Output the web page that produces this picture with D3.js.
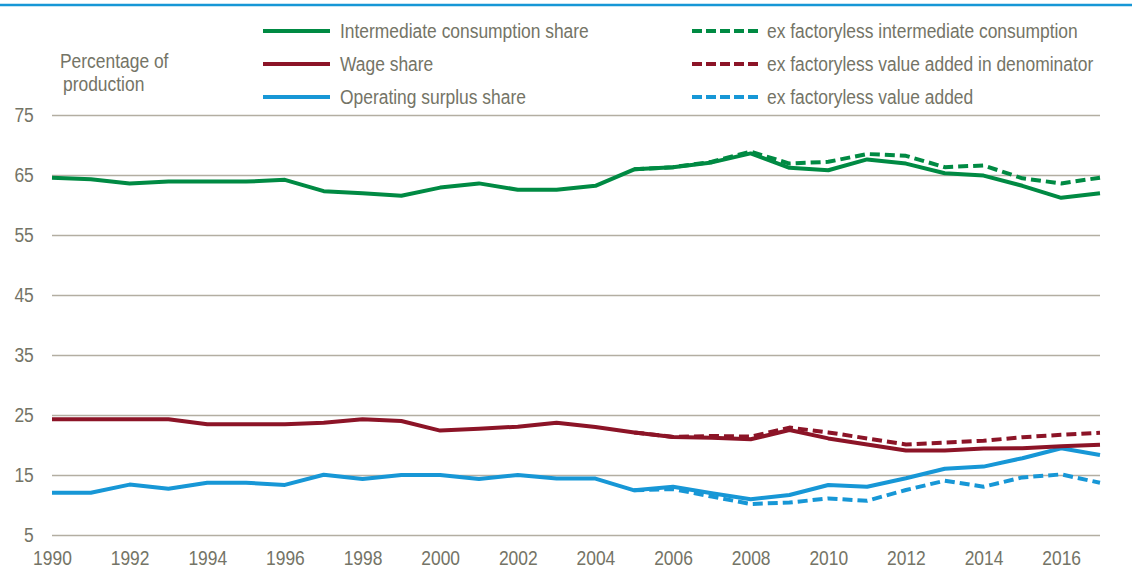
<!DOCTYPE html>
<html><head><meta charset="utf-8">
<script src="https://cdn.jsdelivr.net/npm/d3@7"></script>
<style>body{margin:0;background:#fff}svg{display:block}text{font-family:"Liberation Sans Narrow","Arial Narrow","Liberation Sans",Arial,sans-serif;fill:#747466}</style>
</head><body><svg id="c" width="1132" height="572"></svg>
<script>
const years = d3.range(1990, 2018);
const yTicks = [5, 15, 25, 35, 45, 55, 65, 75];
const xTickYears = d3.range(1990, 2018, 2);
const intermediate = [64.55,64.3,63.6,63.9,63.9,63.9,64.2,62.3,61.95,61.55,62.9,63.6,62.55,62.55,63.2,65.95,66.3,67.1,68.6,66.2,65.8,67.6,66.9,65.3,64.9,63.2,61.2,61.95];
const wage = [24.3,24.3,24.3,24.3,23.45,23.45,23.45,23.7,24.3,24.0,22.4,22.7,23.05,23.7,23.0,22.1,21.35,21.2,20.95,22.5,21.1,20.1,19.1,19.1,19.4,19.45,19.8,20.05];
const surplus = [12.05,12.05,13.4,12.7,13.7,13.7,13.35,15.05,14.33,15.0,15.0,14.35,15.0,14.4,14.4,12.45,13.05,11.95,10.95,11.67,13.33,13.05,14.45,16.05,16.4,17.8,19.45,18.33];
const dashYears = d3.range(2005, 2018);
const exIntermediate = [65.95,66.3,67.2,68.9,66.9,67.2,68.5,68.2,66.3,66.6,64.45,63.6,64.55];
const exWage = [22.1,21.35,21.5,21.4,22.9,22.1,21.1,20.1,20.4,20.7,21.3,21.7,22.05];
const exSurplus = [12.45,12.67,11.4,10.17,10.4,11.1,10.7,12.5,14.05,13.05,14.6,15.1,13.7];
const legendSolid = ["Intermediate consumption share","Wage share","Operating surplus share"];
const legendDashed = ["ex factoryless intermediate consumption","ex factoryless value added in denominator","ex factoryless value added"];
const colors = ["#008a43","#8c1427","#1797d6"];

const SX = 0.83; // horizontal condensing to mimic a narrow typeface
const svg = d3.select("#c");
const x = d3.scaleLinear().domain([1990, 2017]).range([52, 1100]);
const y = d3.scaleLinear().domain([5, 75]).range([535, 115]);

svg.append("line").attr("x1",0).attr("x2",1132).attr("y1",5).attr("y2",5)
  .attr("stroke","#1797d6").attr("stroke-width",2.5);

const gy = svg.append("g").attr("transform","translate(52,0)")
  .call(d3.axisLeft(y).tickValues(yTicks).tickSize(-1048).tickPadding(22).tickFormat(d3.format("d")));
gy.select(".domain").remove();
gy.selectAll(".tick line").attr("stroke","#b3aea2").attr("stroke-width",1.6);
gy.selectAll(".tick text").attr("font-size",21).attr("transform",`scale(${SX},1)`).style("fill","#747466");

const gx = svg.append("g").attr("transform","translate(0,535)")
  .call(d3.axisBottom(x).tickValues(xTickYears).tickSize(0).tickPadding(15).tickFormat(d3.format("d")));
gx.select(".domain").remove();
gx.selectAll(".tick text").attr("font-size",21).attr("transform",`scale(${SX},1)`).style("fill","#747466");

const line = d3.line().x(d => x(d[0])).y(d => y(d[1]));
function draw(ys, vals, col, dashed){
  svg.append("path").datum(ys.map((yr,i)=>[yr, vals[i]]))
    .attr("d", line).attr("fill","none").attr("stroke", col)
    .attr("stroke-width", 4).attr("stroke-linejoin","round")
    .attr("stroke-dasharray", dashed ? "10,5" : null);
}
draw(dashYears, exSurplus, colors[2], true);
draw(dashYears, exWage, colors[1], true);
draw(dashYears, exIntermediate, colors[0], true);
draw(years, surplus, colors[2], false);
draw(years, wage, colors[1], false);
draw(years, intermediate, colors[0], false);

function label(tx, ty, t){
  svg.append("text").attr("transform",`translate(${tx},${ty}) scale(${SX},1)`)
    .attr("font-size",21).text(t);
}
const rows = [31, 64, 97];
legendSolid.forEach((t,i)=>{
  svg.append("line").attr("x1",263).attr("x2",330).attr("y1",rows[i]).attr("y2",rows[i])
    .attr("stroke",colors[i]).attr("stroke-width",4);
  label(340, rows[i]+7, t);
});
legendDashed.forEach((t,i)=>{
  svg.append("line").attr("x1",692).attr("x2",758).attr("y1",rows[i]).attr("y2",rows[i])
    .attr("stroke",colors[i]).attr("stroke-width",4).attr("stroke-dasharray","10,4");
  label(767, rows[i]+7, t);
});
label(60, 68, "Percentage of");
label(63, 91, "production");
</script></body></html>
